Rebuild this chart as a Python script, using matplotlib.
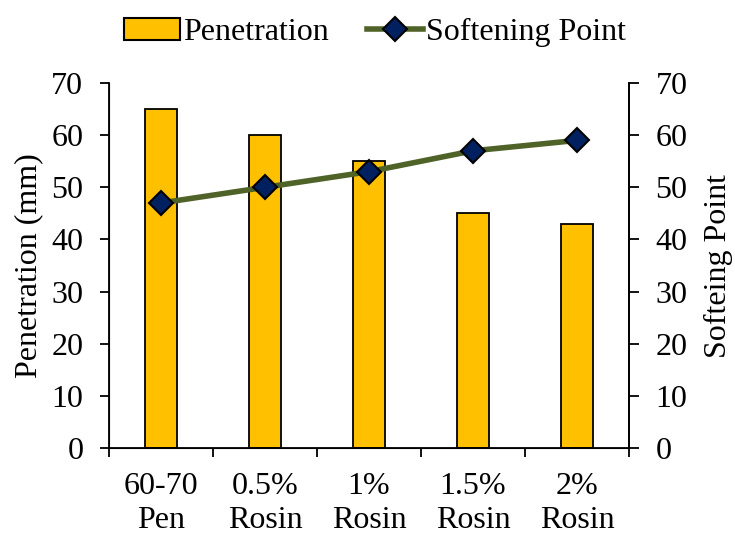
import matplotlib
matplotlib.use("Agg")
import matplotlib.pyplot as plt
import numpy as np
from matplotlib.lines import Line2D
from matplotlib.patches import Patch

categories = ["60-70\nPen", "0.5%\nRosin", "1%\nRosin", "1.5%\nRosin", "2%\nRosin"]
penetration = [65, 60, 55, 45, 43]
softening = [47, 50, 53, 57, 59]

plt.rcParams['font.family'] = ['Liberation Serif', 'DejaVu Serif']
plt.rcParams['font.size'] = 23

fig = plt.figure(figsize=(7.35, 5.35), dpi=100)
ax = fig.add_axes([0.1483, 0.1626, 0.7075, 0.6822])
x = np.arange(len(categories))
ax.bar(x, penetration, width=0.31, color='#FFC000', edgecolor='black', linewidth=1.3, zorder=2)
ax.set_xlim(-0.5, len(categories) - 0.5)
ax.set_ylim(0, 70)
ax.set_yticks(range(0, 71, 10))
ax.set_xticks(x)
ax.set_xticklabels(categories, linespacing=1.25)
ax.tick_params(axis='x', which='major', length=0, pad=17)
ax.set_xticks(np.arange(-0.5, len(categories), 1), minor=True)
ax.tick_params(axis='x', which='minor', length=6.5, width=1.3, direction='out')
ax.tick_params(axis='y', length=6.5, width=1.3, direction='out', pad=12)
ax.set_ylabel("Penetration (mm)", labelpad=6)
ax.spines['top'].set_visible(False)
for s in ['left', 'bottom', 'right']:
    ax.spines[s].set_linewidth(1.3)

ax2 = ax.twinx()
ax2.plot(x, softening, color='#4F6228', linewidth=4, marker='D', markersize=12,
         markerfacecolor='#002060', markeredgecolor='black', markeredgewidth=1.5, zorder=3)
ax2.set_ylim(0, 70)
ax2.set_yticks(range(0, 71, 10))
ax2.tick_params(axis='y', length=7, width=1.3, direction='out', pad=12)
ax2.set_ylabel("Softeing Point", labelpad=12)
ax2.spines['top'].set_visible(False)
ax2.spines['right'].set_linewidth(1.3)

handles = [Patch(facecolor='#FFC000', edgecolor='black', linewidth=1.5),
           Line2D([0], [0], color='#4F6228', linewidth=4, marker='D', markersize=12,
                  markerfacecolor='#002060', markeredgecolor='black', markeredgewidth=1.5)]
fig.legend(handles, ["Penetration", "Softening Point"], loc='upper center',
           bbox_to_anchor=(0.51, 1.02), ncol=2, frameon=False, handlelength=1.75,
           handletextpad=0.1, columnspacing=1.2, fontsize=23)

fig.savefig("out.png", dpi=100)
